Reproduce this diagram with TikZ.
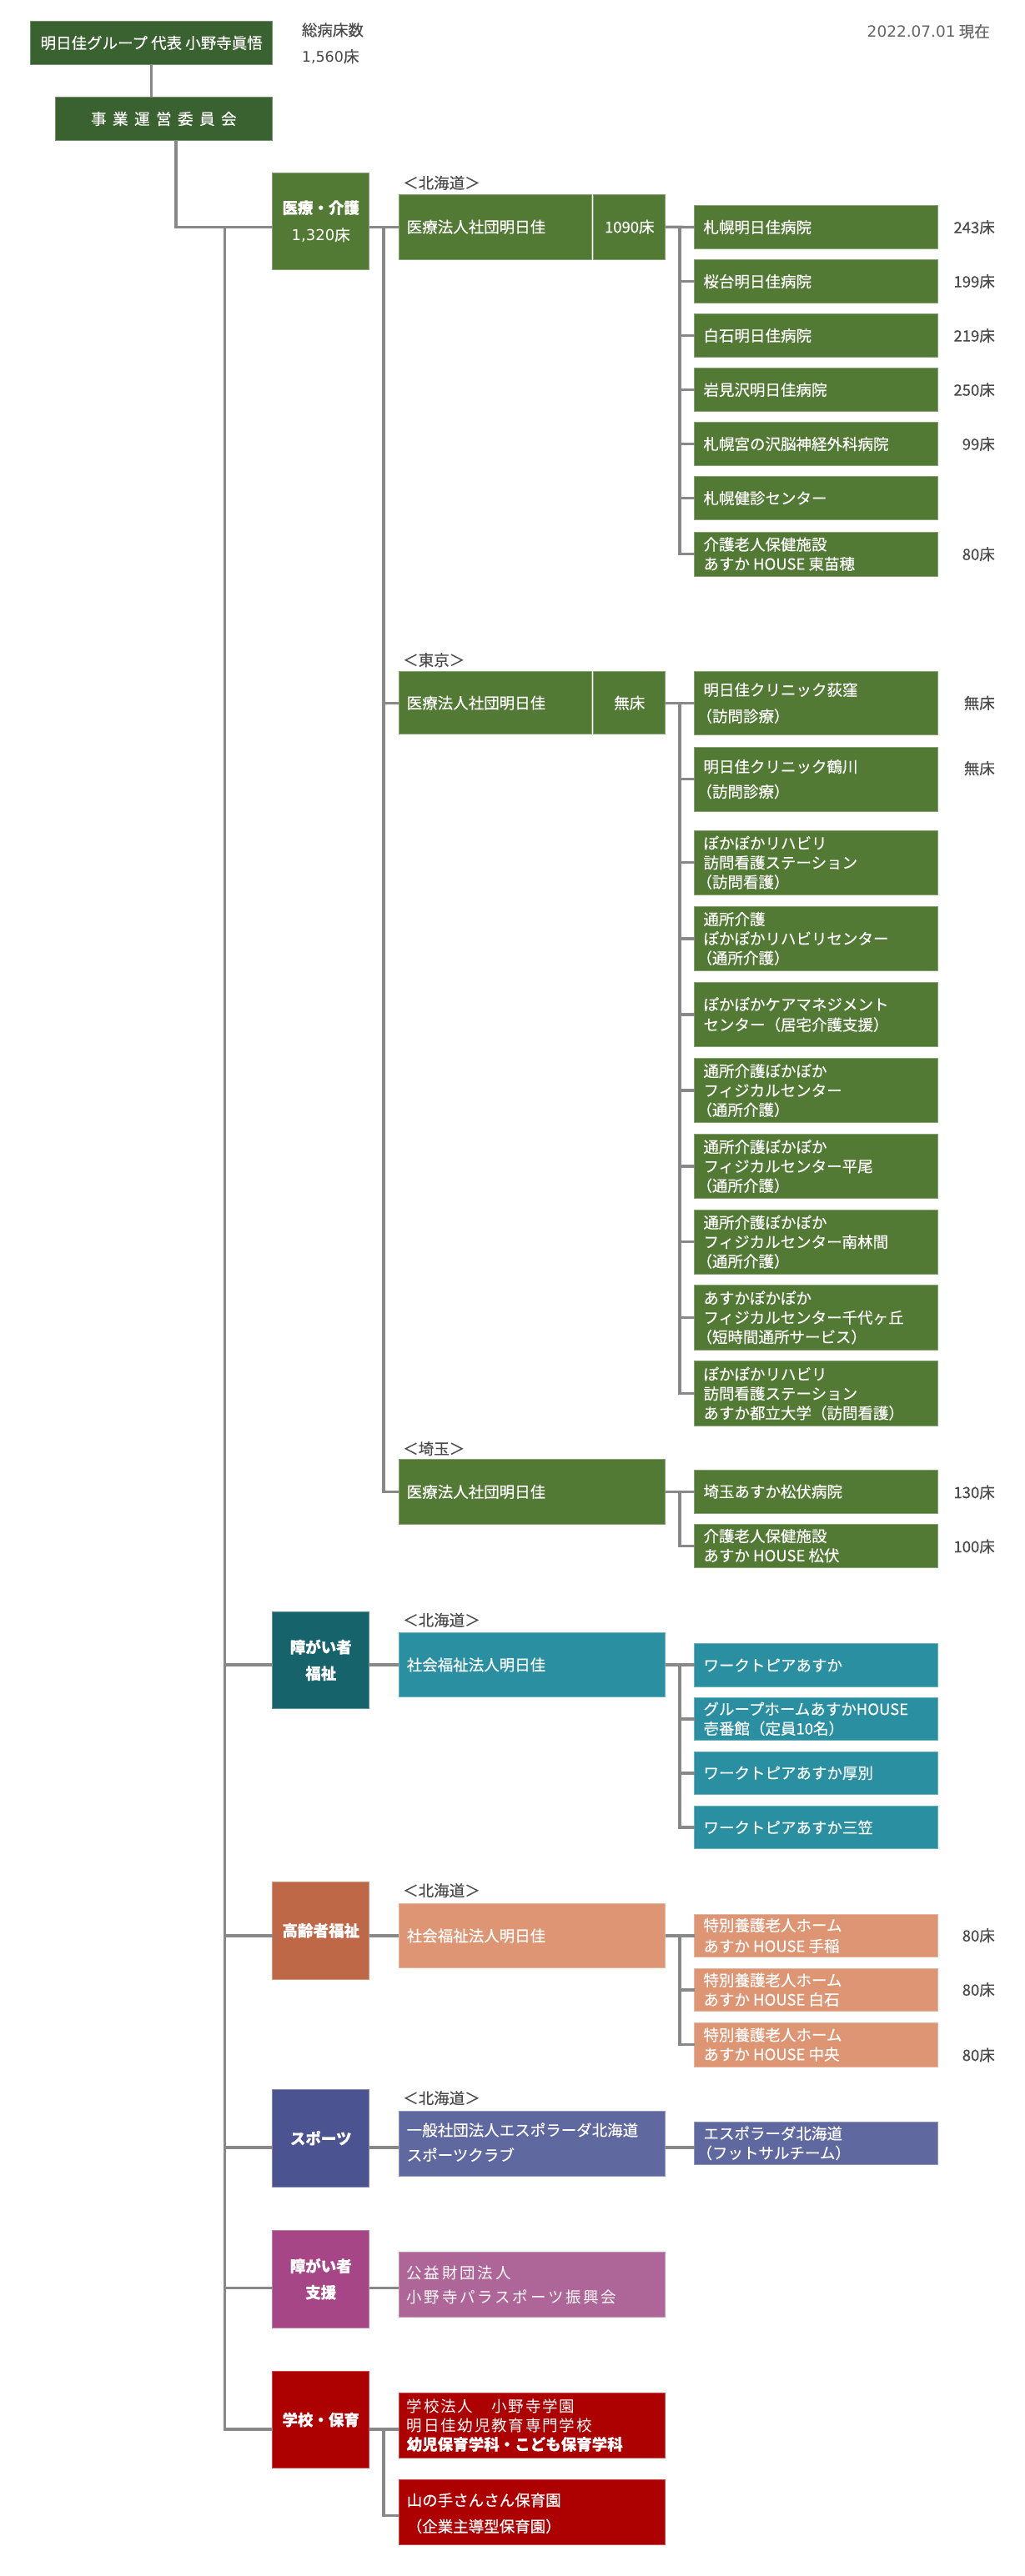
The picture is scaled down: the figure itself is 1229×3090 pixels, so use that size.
\documentclass[tikz,border=0pt]{standalone}
\usepackage{fontspec}
\setmainfont{Noto Sans CJK JP}[FakeBold=0.35]
\newfontfamily\dv{DejaVu Sans}
\newfontfamily\cjkw[LetterSpace=15]{Noto Sans CJK JP}
\newfontfamily\cjkv[LetterSpace=10]{Noto Sans CJK JP}
\definecolor{dkgreen}{HTML}{3A6130}
\definecolor{mdgreen}{HTML}{527A35}
\definecolor{dkteal}{HTML}{17636B}
\definecolor{tealb}{HTML}{2A8FA0}
\definecolor{brownb}{HTML}{BE6847}
\definecolor{salmonb}{HTML}{DD9574}
\definecolor{dkpurp}{HTML}{4B5390}
\definecolor{purpb}{HTML}{5F689F}
\definecolor{magen}{HTML}{A64687}
\definecolor{pinkp}{HTML}{AE6597}
\definecolor{redb}{HTML}{AD0000}
\definecolor{lgray}{HTML}{888888}
\definecolor{tgray}{HTML}{4A4A4A}
\tikzset{
  ob/.style={rectangle, anchor=north west, inner sep=0pt, outer sep=0pt, fill=#1, draw=#1!70!white, line width=1pt},
  conn/.style={draw=lgray, line width=3.3pt},
  wt/.style={text=white, inner sep=0pt, align=left, font=\fontsize{18.5}{#1}\selectfont},
  wt/.default=23.3,
  ct/.style={text=white, align=center, font=\bfseries\fontsize{18.5}{#1}\selectfont},
  ct/.default=31.5,
  gt/.style={text=tgray, inner sep=0pt, font=\fontsize{18.5}{22}\selectfont},
}
\newcommand\obx[6]{\node[ob=#2, minimum width=#5pt, minimum height=#6pt] (#1) at (#3,#4) {};}
\newcommand\otx[4]{\node[#2, anchor=west, xshift=#3pt] (#1t) at (#1.west) {#4};}
\newcommand\bed[3]{\node[gt, anchor=east] (#1) at (1193,#2) {#3};}
\newcommand\ks{\kern7.5pt}
\newcommand\lp{\kern-8pt（}
\begin{document}
\begin{tikzpicture}[x=1pt,y=-1pt]
\fill[white] (0,0) rectangle (1229,3090);
\useasboundingbox (0,0) rectangle (1229,3090);

% ---------- header ----------
\node[ob=dkgreen, minimum width=290pt, minimum height=51.6pt, text=white, font=\fontsize{18.5}{22}\selectfont] (top) at (36.7,25.7) {明日佳グループ 代表 小野寺眞悟};
\node[ob=dkgreen, minimum width=260.7pt, minimum height=51.6pt, text=white, font=\fontsize{18.5}{22}\selectfont] (comm) at (66,116.7) {事\ks 業\ks 運\ks 営\ks 委\ks 員\ks 会};
\node[gt, anchor=west] (tot1) at (361.7,36) {総病床数};
\node[gt, anchor=west] (tot2) at (361.7,68) {{\dv\fontsize{17.5}{20}\selectfont 1,560}床};
\node[gt, anchor=east, text=tgray!85!white] (date) at (1187,37.7) {{\dv\fontsize{18.5}{20}\selectfont 2022.07.01} 現在};

% ---------- categories ----------
\node[ob=mdgreen, minimum width=116pt, minimum height=116.6pt, ct=32.6] (cat1) at (326.7,207.3) {医療・介護\\{\mdseries\dv\fontsize{18}{32.6}\selectfont 1,320}{\mdseries 床}};
\node[ob=dkteal, minimum width=116pt, minimum height=116.5pt, ct] (cat2) at (326.7,1933) {障がい者\\福祉};
\node[ob=brownb, minimum width=116pt, minimum height=116.5pt, ct] (cat3) at (326.7,2257.5) {高齢者福祉};
\node[ob=dkpurp, minimum width=116pt, minimum height=116.5pt, ct] (cat4) at (326.7,2506.5) {スポーツ};
\node[ob=magen, minimum width=116pt, minimum height=116.5pt, ct] (cat5) at (326.7,2675.5) {障がい者\\支援};
\node[ob=redb, minimum width=116pt, minimum height=116.5pt, ct] (cat6) at (326.7,2844.3) {学校・保育};

% ---------- region labels ----------
\node[gt, anchor=west] (lab1) at (483,219.3) {＜北海道＞};
\node[gt, anchor=west] (lab2) at (483,791.7) {＜東京＞};
\node[gt, anchor=west] (lab3) at (483,1737.7) {＜埼玉＞};
\node[gt, anchor=west] (lab4) at (483,1943.3) {＜北海道＞};
\node[gt, anchor=west] (lab5) at (483,2267.7) {＜北海道＞};
\node[gt, anchor=west] (lab6) at (483,2516.7) {＜北海道＞};

% ---------- corporations ----------
\obx{ent1}{mdgreen}{478}{233.3}{231.5}{77.7}
\node[ob=mdgreen, minimum width=86.1pt, minimum height=77.7pt, text=white, font=\fontsize{18.5}{22}\selectfont] (ent1b) at (711.7,233.3) {1090床};
\obx{ent2}{mdgreen}{478}{805.7}{231.5}{75}
\node[ob=mdgreen, minimum width=86.1pt, minimum height=75pt, text=white, font=\fontsize{18.5}{22}\selectfont] (ent2b) at (711.7,805.7) {無床};
\obx{ent3}{mdgreen}{478}{1750.7}{319.8}{77.6}
\obx{ent4}{tealb}{478}{1958.3}{319.8}{77.4}
\obx{ent5}{salmonb}{478}{2283.3}{319.8}{77.4}
\obx{ent6}{purpb}{478}{2532.3}{319.8}{77.7}
\obx{ent7}{pinkp}{478}{2701}{319.8}{78}
\obx{ent8}{redb}{478}{2870.3}{319.8}{78}
\obx{ent9}{redb}{478}{2974.3}{319.8}{78}
\otx{ent1}{wt}{9.5}{医療法人社団明日佳}
\otx{ent2}{wt}{9.5}{医療法人社団明日佳}
\otx{ent3}{wt}{9.5}{医療法人社団明日佳}
\otx{ent4}{wt}{9.5}{社会福祉法人明日佳}
\otx{ent5}{wt}{9.5}{社会福祉法人明日佳}
\node[wt=30, anchor=west, xshift=9.5pt, yshift=1.5pt] (ent6t) at (ent6.west) {一般社団法人エスポラーダ北海道\\スポーツクラブ};
\node[wt=29.3, anchor=west, xshift=9.5pt, yshift=-1pt] (ent7t) at (ent7.west) {\cjkw 公益財団法人\\\cjkw 小野寺パラスポーツ振興会};
\node[wt=22.8, anchor=west, xshift=9.5pt] (ent8t) at (ent8.west) {\cjkv 学校法人　小野寺学園\\\cjkv 明日佳幼児教育専門学校\\\bfseries 幼児保育学科・こども保育学科};
\node[wt=31.4, anchor=west, xshift=9.5pt, yshift=-1.5pt] (ent9t) at (ent9.west) {山の手さんさん保育園\\（企業主導型保育園）};

% ---------- Hokkaido medical ----------
\obx{h1}{mdgreen}{832.8}{246.7}{291.4}{51.7}
\obx{h2}{mdgreen}{832.8}{311.7}{291.4}{51.7}
\obx{h3}{mdgreen}{832.8}{376.7}{291.4}{51.7}
\obx{h4}{mdgreen}{832.8}{441.7}{291.4}{51.7}
\obx{h5}{mdgreen}{832.8}{506.7}{291.4}{51.7}
\obx{h6}{mdgreen}{832.8}{571.7}{291.4}{51.7}
\obx{h7}{mdgreen}{832.8}{638.3}{291.4}{52.7}
\otx{h1}{wt}{10.5}{札幌明日佳病院}
\otx{h2}{wt}{10.5}{桜台明日佳病院}
\otx{h3}{wt}{10.5}{白石明日佳病院}
\otx{h4}{wt}{10.5}{岩見沢明日佳病院}
\otx{h5}{wt}{10.5}{札幌宮の沢脳神経外科病院}
\otx{h6}{wt}{10.5}{札幌健診センター}
\otx{h7}{wt}{10.5}{介護老人保健施設\\あすか HOUSE 東苗穂}
\bed{b1}{272.6}{243床}
\bed{b2}{337.6}{199床}
\bed{b3}{402.6}{219床}
\bed{b4}{467.6}{250床}
\bed{b5}{532.6}{99床}
\bed{b7}{664.7}{80床}

% ---------- Tokyo ----------
\obx{k1}{mdgreen}{832.8}{805}{291.4}{76.7}
\obx{k2}{mdgreen}{832.8}{896.3}{291.4}{76.7}
\obx{k3}{mdgreen}{832.8}{996}{291.4}{77.3}
\obx{k4}{mdgreen}{832.8}{1087.3}{291.4}{77.3}
\obx{k5}{mdgreen}{832.8}{1178.3}{291.4}{77.3}
\obx{k6}{mdgreen}{832.8}{1269.3}{291.4}{77.3}
\obx{k7}{mdgreen}{832.8}{1360.3}{291.4}{77.3}
\obx{k8}{mdgreen}{832.8}{1451}{291.4}{77.3}
\obx{k9}{mdgreen}{832.8}{1541.7}{291.4}{77.3}
\obx{k10}{mdgreen}{832.8}{1632.7}{291.4}{77.8}
\otx{k1}{wt=31.6}{10.5}{明日佳クリニック荻窪\\\lp 訪問診療）}
\otx{k2}{wt=30}{10.5}{明日佳クリニック鶴川\\\lp 訪問診療）}
\otx{k3}{wt}{10.5}{ぽかぽかリハビリ\\訪問看護ステーション\\\lp 訪問看護）}
\otx{k4}{wt}{10.5}{通所介護\\ぽかぽかリハビリセンター\\\lp 通所介護）}
\otx{k5}{wt=24.3}{10.5}{ぽかぽかケアマネジメント\\センター（居宅介護支援）}
\otx{k6}{wt}{10.5}{通所介護ぽかぽか\\フィジカルセンター\\\lp 通所介護）}
\otx{k7}{wt}{10.5}{通所介護ぽかぽか\\フィジカルセンター平尾\\\lp 通所介護）}
\otx{k8}{wt}{10.5}{通所介護ぽかぽか\\フィジカルセンター南林間\\\lp 通所介護）}
\otx{k9}{wt}{10.5}{あすかぽかぽか\\フィジカルセンター千代ヶ丘\\\lp 短時間通所サービス）}
\otx{k10}{wt}{10.5}{ぽかぽかリハビリ\\訪問看護ステーション\\あすか都立大学（訪問看護）}
\bed{bk1}{843.3}{無床}
\bed{bk2}{921.7}{無床}

% ---------- Saitama ----------
\obx{s1}{mdgreen}{832.8}{1763.3}{291.4}{51.7}
\obx{s2}{mdgreen}{832.8}{1828.3}{291.4}{51.7}
\otx{s1}{wt}{10.5}{埼玉あすか松伏病院}
\otx{s2}{wt}{10.5}{介護老人保健施設\\あすか HOUSE 松伏}
\bed{bs1}{1790}{130床}
\bed{bs2}{1855}{100床}

% ---------- welfare (teal) ----------
\obx{w1}{tealb}{832.8}{1971.7}{291.4}{51.7}
\obx{w2}{tealb}{832.8}{2036}{291.4}{51.7}
\obx{w3}{tealb}{832.8}{2101}{291.4}{51.7}
\obx{w4}{tealb}{832.8}{2166}{291.4}{51.7}
\otx{w1}{wt}{10.5}{ワークトピアあすか}
\otx{w2}{wt}{10.5}{グループホームあすかHOUSE\\壱番館（定員10名）}
\otx{w3}{wt}{10.5}{ワークトピアあすか厚別}
\otx{w4}{wt}{10.5}{ワークトピアあすか三笠}

% ---------- elderly (salmon) ----------
\obx{e1}{salmonb}{832.8}{2296}{291.4}{51.7}
\obx{e2}{salmonb}{832.8}{2361}{291.4}{51.7}
\obx{e3}{salmonb}{832.8}{2426}{291.4}{53}
\otx{e1}{wt=25}{10.5}{特別養護老人ホーム\\あすか HOUSE 手稲}
\otx{e2}{wt}{10.5}{特別養護老人ホーム\\あすか HOUSE 白石}
\otx{e3}{wt}{10.5}{特別養護老人ホーム\\あすか HOUSE 中央}
\bed{be1}{2321.7}{80床}
\bed{be2}{2386.7}{80床}
\bed{be3}{2465}{80床}

% ---------- sports ----------
\obx{p1}{purpb}{832.8}{2545}{291.4}{51.7}
\otx{p1}{wt}{10.5}{エスポラーダ北海道\\\lp フットサルチーム）}

% ---------- connectors ----------
\coordinate (tr) at (269.3,0);
\coordinate (vM) at (460,0);
\coordinate (vR) at (815,0);
\coordinate (t4) at (0,2576);
\coordinate (t5) at (0,2744.5);
\coordinate (t6) at (0,2914);
\coordinate (t9) at (0,3017.5);

\draw[conn] (top.south) -- (top.south |- comm.north);
\draw[conn] ([xshift=14.65pt]comm.south) |- (ent1.west -| cat1.west);
\draw[conn] (ent1.west -| tr) -- (t6 -| tr) -- (t6 -| cat6.west);
\draw[conn] (ent4.west -| tr) -- (ent4.west -| cat2.west);
\draw[conn] (ent5.west -| tr) -- (ent5.west -| cat3.west);
\draw[conn] (t4 -| tr) -- (t4 -| cat4.west);
\draw[conn] (t5 -| tr) -- (t5 -| cat5.west);

\draw[conn] (ent1.west -| cat1.east) -- (ent1.west);
\draw[conn] (ent1.west -| vM) -- (ent3.west -| vM) -- (ent3.west);
\draw[conn] (ent2.west -| vM) -- (ent2.west);
\draw[conn] (ent4.west -| cat2.east) -- (ent4.west);
\draw[conn] (ent5.west -| cat3.east) -- (ent5.west);
\draw[conn] (t4 -| cat4.east) -- (t4 -| ent6.west);
\draw[conn] (t5 -| cat5.east) -- (t5 -| ent7.west);
\draw[conn] (t6 -| cat6.east) -- (t6 -| ent8.west);
\draw[conn] (t6 -| vM) |- (t9 -| ent9.west);

\draw[conn] (ent1b.east) -- (h1.west);
\draw[conn] (h1.west -| vR) |- (h7.west);
\foreach \i in {2,...,6} {\draw[conn] (h\i.west -| vR) -- (h\i.west);}
\draw[conn] (ent2b.east) -- (ent2b.east -| k1.west);
\draw[conn] (ent2b.east -| vR) |- (k10.west);
\foreach \i in {2,...,9} {\draw[conn] (k\i.west -| vR) -- (k\i.west);}
\draw[conn] (ent3.east) -- (ent3.east -| s1.west);
\draw[conn] (ent3.east -| vR) |- (s2.west);
\draw[conn] (ent4.east) -- (ent4.east -| w1.west);
\draw[conn] (ent4.east -| vR) |- (w4.west);
\foreach \i in {2,3} {\draw[conn] (w\i.west -| vR) -- (w\i.west);}
\draw[conn] (ent5.east) -- (ent5.east -| e1.west);
\draw[conn] (ent5.east -| vR) |- (e3.west);
\draw[conn] (e2.west -| vR) -- (e2.west);
\draw[conn] (t4 -| ent6.east) -- (t4 -| p1.west);
\end{tikzpicture}
\end{document}
